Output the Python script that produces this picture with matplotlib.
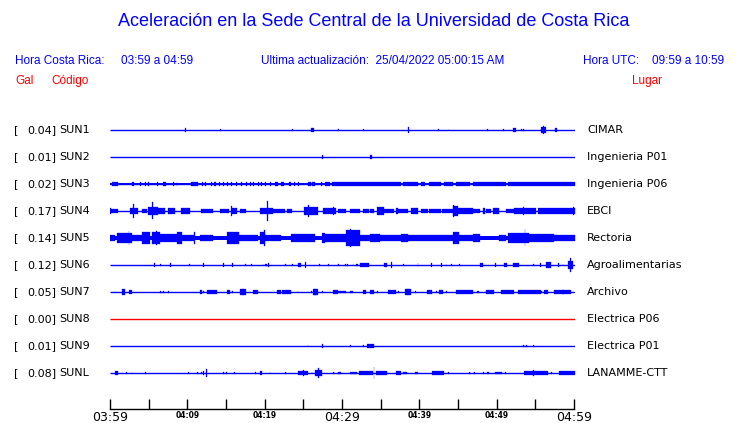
import matplotlib
matplotlib.use("Agg")
import matplotlib.pyplot as plt

# stations, top to bottom
codes = ["SUN1", "SUN2", "SUN3", "SUN4", "SUN5", "SUN6", "SUN7", "SUN8", "SUN9", "SUNL"]
gal_max = [0.04, 0.01, 0.02, 0.17, 0.14, 0.12, 0.05, 0.00, 0.01, 0.08]
places = ["CIMAR", "Ingenieria P01", "Ingenieria P06", "EBCI", "Rectoria",
          "Agroalimentarias", "Archivo", "Electrica P06", "Electrica P01", "LANAMME-CTT"]
trace_colors = ["blue"] * 7 + ["red"] + ["blue"] * 2
# half-width of the permanent noise band (px)
base_amp = [0, 0, 0.8, 0, 2.4, 0, 0, 0, 0, 0]

# minutes after 03:59, tick labels
tick_minutes = [0, 5, 10, 15, 20, 25, 30, 35, 40, 45, 50, 55, 60]
tick_labels = ["03:59", "", "04:09", "", "04:19", "", "04:29", "", "04:39", "", "04:49", "", "04:59"]
big_labels = ["03:59", "04:29", "04:59"]

# bursts: (start min, end min, half amplitude px)
sun1 = [(9.7, 9.8, 2), (14.2, 14.3, 1.2), (23.5, 23.6, 1), (25.9, 26.3, 2), (29.4, 29.5, 1.2),
        (32.7, 32.8, 1), (38.4, 38.6, 4), (42.3, 42.4, 1), (43.7, 43.8, 1.5), (48.7, 48.8, 1),
        (50.7, 50.8, 1), (52.0, 52.4, 2.5), (53.0, 53.1, 1.2), (53.3, 53.4, 1), (55.6, 56.2, 3),
        (55.9, 56.0, 4.5), (57.4, 57.7, 1.8)]
sun2 = [(27.3, 27.5, 2), (33.6, 33.8, 2)]
sun3 = [(0.2, 1.0, 2), (2.8, 3.1, 2), (3.9, 4.0, 2), (4.5, 4.6, 2), (4.9, 5.0, 2), (6.1, 6.2, 2),
        (6.8, 7.2, 2), (8.1, 8.2, 2), (8.6, 8.7, 2), (10.5, 11.4, 2), (11.9, 12.0, 2), (12.3, 12.4, 2),
        (13.0, 13.1, 2), (13.4, 13.7, 2), (14.1, 14.2, 2), (14.6, 14.7, 2), (15.1, 15.2, 2),
        (15.6, 15.7, 2), (16.3, 16.4, 2), (16.9, 17.0, 2), (17.6, 17.7, 2), (18.1, 18.2, 2),
        (18.5, 18.6, 2), (19.1, 19.2, 2), (19.5, 19.6, 2), (20.0, 20.1, 2), (20.7, 20.8, 2),
        (21.3, 21.7, 2), (22.1, 22.5, 2), (23.1, 23.3, 2), (23.8, 23.9, 2), (24.3, 24.4, 2),
        (25.5, 25.9, 2), (26.1, 26.5, 2), (27.2, 27.4, 2), (27.8, 28.4, 2), (28.7, 37.5, 2),
        (37.8, 38.4, 2), (38.5, 39.8, 2), (40.1, 40.7, 2), (41.1, 42.7, 2), (43.1, 44.2, 2),
        (44.6, 46.5, 2), (46.8, 51.1, 2), (51.3, 60.0, 2)]
sun4 = [(0.0, 1.0, 2.7), (0.0, 0.15, 3.5), (2.6, 3.6, 3), (3.0, 3.1, 8), (4.1, 4.8, 2), (4.9, 6.2, 5),
        (5.4, 5.5, 10), (6.2, 7.1, 3), (7.5, 8.4, 3), (9.2, 10.3, 4), (11.8, 13.3, 2), (14.2, 15.3, 2.5),
        (15.6, 15.7, 6), (15.8, 16.4, 3), (16.8, 17.5, 2), (19.3, 21.0, 4), (20.3, 20.4, 12),
        (20.9, 22.6, 2), (22.9, 23.5, 2), (25.0, 26.8, 5), (25.6, 25.7, 6.5), (27.5, 29.1, 3.5),
        (28.8, 28.9, 4.5), (29.4, 30.4, 2), (31.0, 32.3, 2), (32.6, 33.4, 2.8), (33.6, 34.0, 2),
        (34.4, 35.3, 5), (35.3, 36.6, 2), (36.9, 37.1, 4), (37.2, 38.4, 2), (38.8, 39.8, 3),
        (40.1, 41.0, 2), (41.1, 42.7, 2.5), (42.9, 44.2, 2), (44.2, 44.9, 6), (44.3, 44.4, 7.5),
        (44.9, 46.8, 3.5), (46.9, 47.8, 2), (48.1, 48.4, 4), (48.5, 49.1, 2), (49.4, 50.2, 3),
        (51.1, 52.1, 2.5), (52.1, 55.0, 3.5), (53.3, 53.4, 5), (55.2, 57.3, 3), (57.3, 60.0, 3),
        (59.8, 59.9, 4.5)]
sun5 = [(0.0, 0.6, 3), (0.9, 2.8, 6), (2.4, 2.5, 8), (2.8, 4.1, 3.5), (4.1, 5.2, 7), (5.4, 6.5, 7),
        (5.9, 6.0, 8.5), (6.5, 8.7, 4.5), (8.7, 9.3, 6.5), (9.3, 10.9, 4), (10.9, 11.0, 6.5),
        (11.6, 13.3, 3.5), (15.1, 16.6, 6.5), (16.6, 19.1, 3.2), (19.3, 20.0, 7), (19.9, 20.0, 9.5),
        (20.0, 22.0, 4), (23.3, 24.6, 5), (24.6, 26.5, 5), (27.4, 27.7, 6), (27.7, 29.7, 5),
        (29.7, 30.4, 5), (30.4, 32.3, 9), (31.0, 31.1, 10.5), (32.3, 33.6, 4), (33.6, 34.9, 5),
        (34.9, 37.5, 3.5), (37.5, 38.4, 5), (38.4, 44.2, 3.5), (44.2, 45.0, 7), (45.0, 46.9, 4),
        (46.9, 47.8, 5), (50.2, 51.1, 3.5), (51.3, 54.0, 6), (53.5, 53.6, 10), (54.0, 57.3, 4.5),
        (57.3, 60.0, 4)]
sun6 = [(5.7, 5.8, 2), (6.5, 6.6, 1), (7.8, 7.9, 2), (10.2, 10.3, 1), (12.0, 12.1, 2), (14.6, 14.7, 2),
        (15.8, 15.9, 2), (17.4, 17.5, 1), (18.2, 18.3, 1.5), (19.7, 19.8, 1.2), (20.0, 20.3, 1.5),
        (20.4, 20.5, 2), (22.6, 22.7, 1.2), (23.5, 23.6, 1.5), (24.2, 24.6, 2.5), (25.2, 25.3, 3),
        (27.0, 27.1, 1.5), (28.1, 28.2, 1.5), (29.4, 29.5, 1.5), (30.3, 30.4, 1), (30.6, 30.7, 1),
        (31.3, 31.4, 1.2), (31.7, 32.0, 1.2), (32.3, 33.4, 2), (35.3, 35.8, 2), (36.3, 36.4, 3),
        (37.8, 37.9, 1.5), (39.7, 39.8, 2), (41.4, 41.5, 2), (42.7, 42.8, 2), (43.3, 43.4, 1.5),
        (44.0, 44.1, 1.5), (45.0, 45.1, 1.2), (47.7, 48.1, 2), (49.7, 49.8, 2), (50.8, 51.2, 2),
        (52.0, 52.8, 2), (54.6, 54.7, 1.5), (55.5, 55.6, 2), (56.2, 56.9, 4), (57.8, 57.9, 2),
        (58.4, 58.5, 1.5), (59.1, 59.7, 5), (59.4, 59.5, 8)]
sun7 = [(0.6, 0.7, 1), (1.5, 1.9, 3), (2.5, 2.8, 2), (6.5, 6.6, 1), (6.9, 7.0, 1.5), (7.5, 7.6, 1),
        (11.6, 11.9, 2), (12.0, 12.1, 1.5), (12.5, 13.8, 2), (15.1, 15.5, 2), (15.8, 15.9, 1.5),
        (16.8, 17.5, 3), (17.1, 17.2, 4.5), (18.4, 19.1, 2.5), (21.6, 22.0, 2), (22.2, 23.3, 2.5),
        (24.2, 24.3, 1), (25.9, 26.0, 1.5), (26.2, 26.8, 4), (26.4, 26.5, 5), (27.4, 27.5, 1),
        (28.8, 29.4, 2), (29.4, 30.4, 1.2), (31.0, 31.4, 1.2), (32.6, 33.0, 2), (33.6, 34.0, 2.5),
        (34.4, 34.6, 1.5), (35.9, 36.9, 2), (37.2, 37.3, 1.2), (38.1, 38.8, 3), (38.4, 38.5, 4.5),
        (39.4, 39.5, 1.2), (40.9, 41.6, 2), (42.0, 42.2, 1.5), (42.5, 43.0, 2), (43.4, 43.5, 1.2),
        (44.6, 46.9, 2), (47.4, 47.6, 1.5), (48.5, 49.5, 2.5), (50.4, 52.1, 2), (52.6, 55.6, 2),
        (55.6, 55.8, 1.5), (56.0, 56.5, 2), (57.3, 59.5, 2.5), (58.4, 58.5, 4)]
sun8 = []
sun9 = [(25.5, 25.6, 1), (27.4, 27.5, 2), (31.0, 31.1, 1), (32.7, 32.8, 1.2), (33.2, 34.0, 2),
        (53.3, 53.4, 1.2), (53.7, 53.8, 1.2), (54.6, 54.7, 1)]
sunl = [(0.6, 1.0, 2), (2.1, 2.2, 1), (2.8, 2.9, 1), (4.5, 4.6, 1.5), (10.1, 10.2, 1.2), (11.2, 11.3, 1.2),
        (11.8, 11.9, 1.2), (12.0, 12.1, 2), (12.4, 12.5, 5), (14.6, 14.7, 1.5), (15.0, 15.1, 1.5),
        (16.0, 16.1, 1), (18.4, 18.5, 1), (18.7, 18.8, 1), (19.3, 19.6, 2), (20.6, 20.7, 1),
        (22.6, 22.7, 1), (24.2, 25.5, 2.5), (24.9, 25.0, 3.5), (26.0, 26.1, 1), (26.5, 27.4, 3),
        (26.9, 27.0, 6), (28.8, 28.9, 1), (29.4, 29.8, 1.2), (31.0, 31.9, 1.2), (32.1, 33.9, 2.5),
        (34.0, 34.1, 7), (34.3, 35.8, 2), (36.9, 37.5, 2), (37.8, 38.3, 1.2), (39.4, 39.7, 1.5),
        (41.6, 43.1, 2), (43.6, 43.7, 1), (46.3, 46.4, 1), (47.0, 47.1, 1), (48.1, 48.2, 1),
        (48.7, 48.9, 1.5), (49.7, 50.6, 1.5), (51.0, 51.1, 1), (53.4, 56.5, 2.5), (54.6, 54.7, 3.5),
        (56.9, 57.0, 1), (57.9, 60.0, 2)]
bursts = [sun1, sun2, sun3, sun4, sun5, sun6, sun7, sun8, sun9, sunl]

W, H = 740, 423
ROW_PX = 27.0
hdr_font = "Liberation Sans"

fig = plt.figure(figsize=(W / 100, H / 100), dpi=100)
fig.patch.set_facecolor("white")


def fx(px):
    return px / W


def fy(py):
    return 1 - py / H


# traces
ax = fig.add_axes([fx(110), fy(386.5), fx(575) - fx(110), fy(116.5) - fy(386.5)])
ax.set_xlim(0, 60)
ax.set_ylim(9.5, -0.5)
ax.axis("off")
for i, (events, color) in enumerate(zip(bursts, trace_colors)):
    ax.hlines(i, 0, 60, color=color, lw=1.0)
    if base_amp[i] > 0:
        b = base_amp[i] / ROW_PX
        ax.fill_between([0, 60], i - b, i + b, color=color, lw=0)
    for t0, t1, amp in events:
        a = amp * 0.85 / ROW_PX
        ax.broken_barh([(t0, max(t1 - t0, 0.1))], (i - a, 2 * a),
                       facecolors=color, edgecolors=color, linewidth=0.2)

# time axis
axt = fig.add_axes([fx(110), fy(409), fx(574) - fx(110), 0.0001])
axt.set_xlim(0, 60)
axt.set_yticks([])
for side in ["left", "right", "top"]:
    axt.spines[side].set_visible(False)
axt.spines["bottom"].set_linewidth(1.0)
axt.set_xticks(tick_minutes)
axt.set_xticklabels(tick_labels)
axt.tick_params(axis="x", direction="in", length=7, width=1.0, pad=1.5)
for lab in axt.get_xticklabels():
    if lab.get_text() in big_labels:
        lab.set_fontsize(9)
        lab.set_family("DejaVu Sans")
    else:
        lab.set_fontsize(5.5)
        lab.set_fontweight("bold")

# header
fig.text(fx(374), fy(22), "Aceleración en la Sede Central de la Universidad de Costa Rica",
         color="blue", fontsize=13, family=hdr_font, ha="center", va="center")
fig.text(fx(15), fy(61), "Hora Costa Rica:", color="blue", fontsize=8.5, family=hdr_font, va="center")
fig.text(fx(121), fy(61), "03:59 a 04:59", color="blue", fontsize=8.5, family=hdr_font, va="center")
fig.text(fx(261), fy(61), "Ultima actualización:  25/04/2022 05:00:15 AM", color="blue",
         fontsize=8.5, family=hdr_font, va="center")
fig.text(fx(583), fy(61), "Hora UTC:", color="blue", fontsize=8.5, family=hdr_font, va="center")
fig.text(fx(652), fy(61), "09:59 a 10:59", color="blue", fontsize=8.5, family=hdr_font, va="center")
fig.text(fx(15), fy(81), "Gal", color="red", fontsize=8.5, family=hdr_font, va="center")
fig.text(fx(51), fy(81), "Código", color="red", fontsize=8.5, family=hdr_font, va="center")
fig.text(fx(662), fy(81), "Lugar", color="red", fontsize=8.5, family=hdr_font, va="center", ha="right")

# row labels
for i, (code, g, place) in enumerate(zip(codes, gal_max, places)):
    y = fy(130 + i * ROW_PX)
    fig.text(fx(14), y, "[", fontsize=8, va="center")
    fig.text(fx(56), y, f"{g:.2f}]", fontsize=8, va="center", ha="right")
    fig.text(fx(59), y, code, fontsize=8, va="center")
    fig.text(fx(587), y, place, fontsize=8, va="center")

fig.savefig("out.png", dpi=100)
